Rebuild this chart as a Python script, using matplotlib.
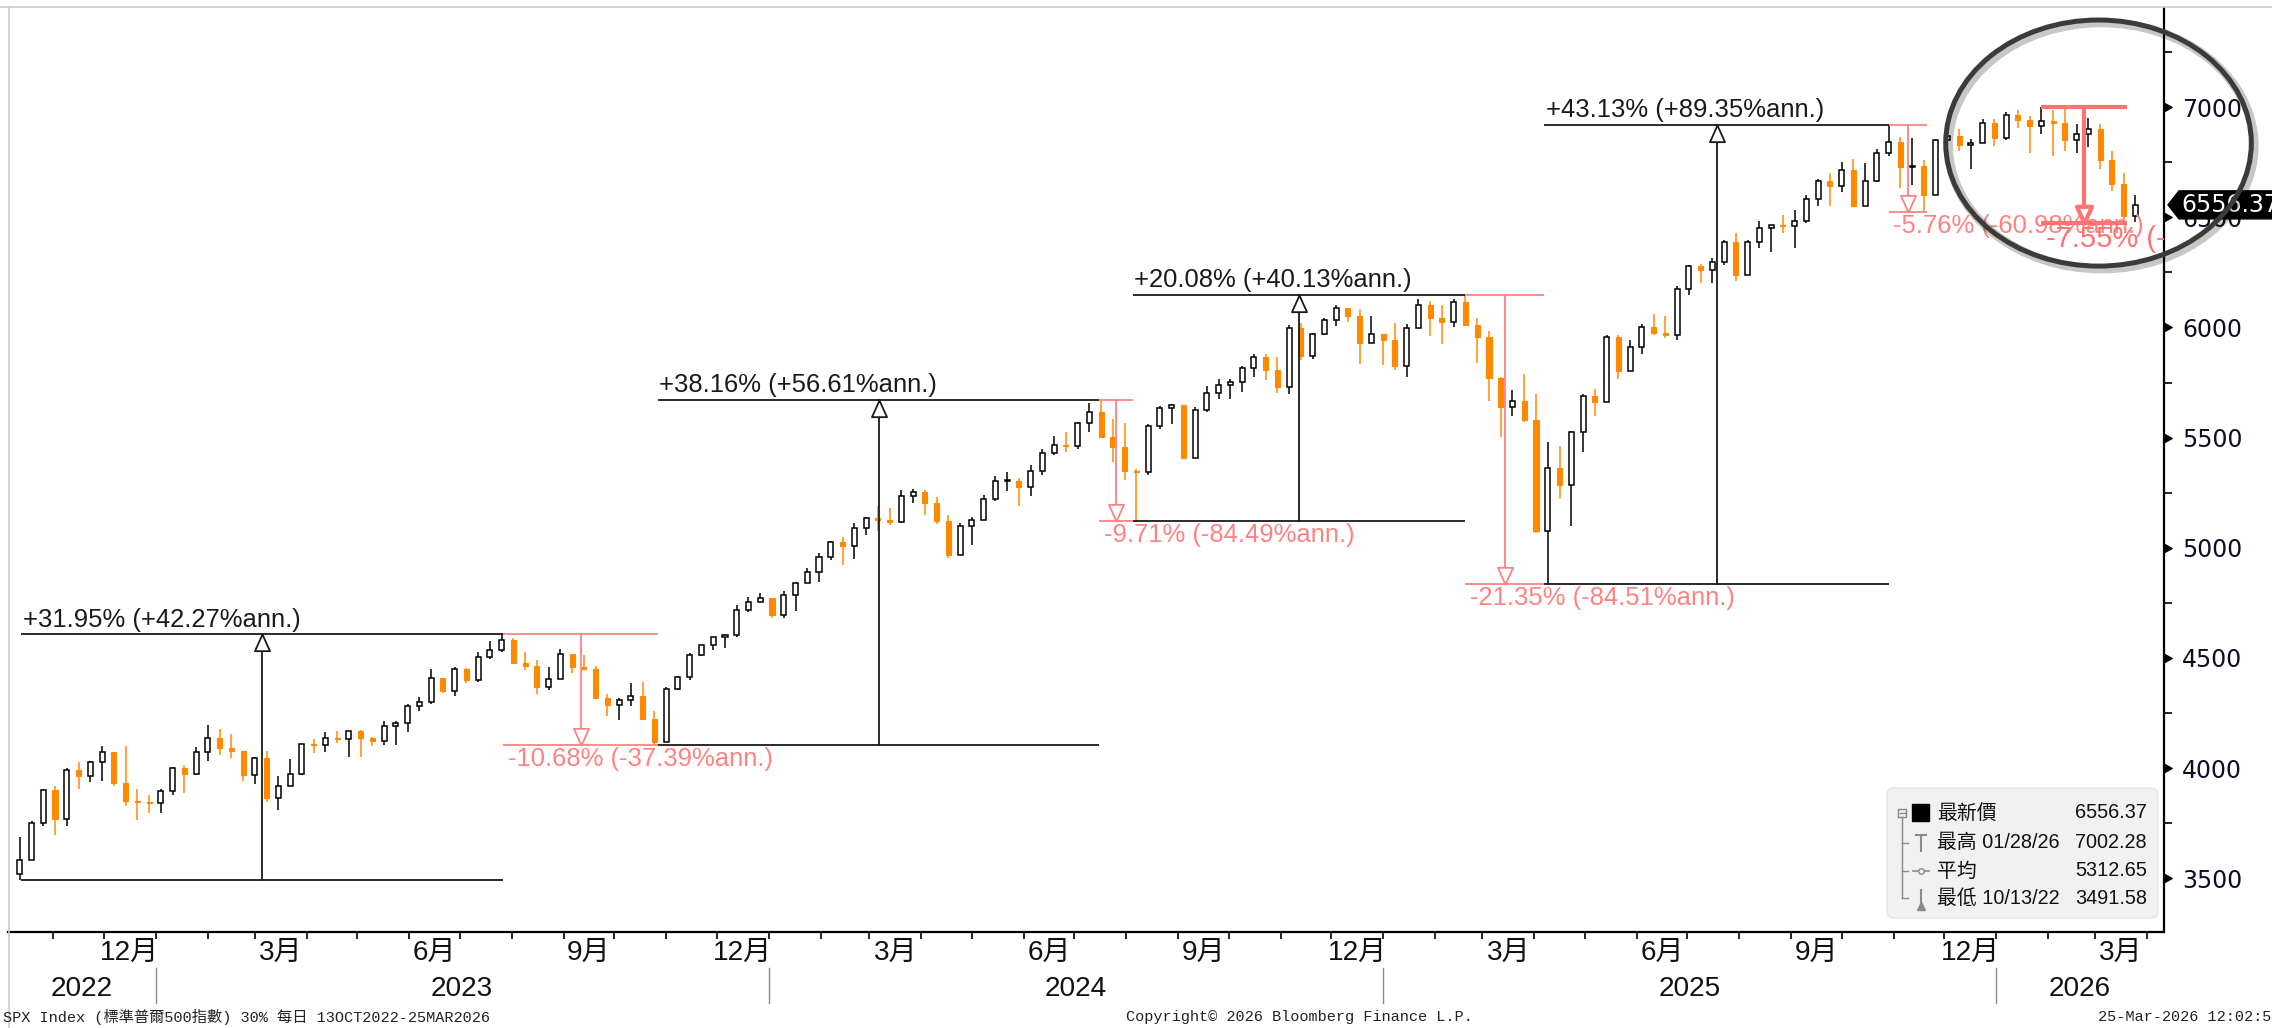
import numpy as np
import pandas as pd
import matplotlib
matplotlib.use('Agg')
import matplotlib.pyplot as plt
import matplotlib.dates as mdates
from matplotlib import font_manager as fm
from matplotlib.patches import Ellipse, Polygon, FancyBboxPatch
from matplotlib.lines import Line2D
from matplotlib.path import Path
from matplotlib.markers import MarkerStyle
from matplotlib.transforms import IdentityTransform, ScaledTranslation

plt.rcParams['axes.unicode_minus'] = False

# ---------------- data (weekly candles) ----------------
week_ends = pd.date_range('2022-10-14', '2026-03-27', freq='W-FRI')
first_open = 3520.37
closes = [
    3583, 3753, 3901, 3771, 3993, 3965, 4026, 4072, 3934, 3852, 3845, 3840,
    3895, 3999, 3973, 4071, 4136, 4090, 4079, 3970, 4046, 3862, 3917, 3971, 4109,
    4105, 4138, 4134, 4169, 4136, 4124, 4192, 4205, 4282, 4299, 4410, 4348, 4450,
    4399, 4505, 4536, 4582, 4478, 4464, 4370, 4406, 4516, 4457, 4450, 4320, 4288,
    4309, 4328, 4224, 4117, 4358, 4415, 4514, 4559, 4595, 4604, 4719, 4755, 4770,
    4697, 4784, 4840, 4891, 4959, 5027, 5006, 5089, 5137, 5124, 5117, 5234, 5254,
    5204, 5123, 4967, 5100, 5128, 5223, 5303, 5305, 5278, 5347, 5432, 5465, 5460,
    5567, 5615, 5505, 5459, 5347, 5344, 5554, 5635, 5648, 5408, 5626, 5703, 5738,
    5751, 5815, 5865, 5808, 5729, 5996, 5871, 5969, 6032, 6090, 6051, 5931, 5971,
    5942, 5827, 5997, 6101, 6041, 6026, 6115, 6013, 5955, 5770, 5639, 5668, 5581,
    5074, 5363, 5283, 5525, 5687, 5660, 5958, 5803, 5912, 6000, 5977, 5968, 6173,
    6279, 6260, 6297, 6389, 6238, 6389, 6450, 6467, 6460, 6482, 6584, 6664, 6644,
    6716, 6553, 6664, 6792, 6840, 6729, 6734, 6603, 6849, 6870, 6827, 6835, 6930,
    6858, 6966, 6940, 6916, 6939, 6930, 6850, 6880, 6900, 6760, 6650, 6506, 6556.37,
]
highs = [
    3685, 3762, 3905, 3920, 4001, 4028, 4034, 4101, 4060, 4101, 3906, 3878,
    3906, 4003, 4015, 4094, 4195, 4176, 4156, 4073, 4049, 4079, 3964, 4039, 4110,
    4133, 4163, 4169, 4170, 4175, 4143, 4213, 4213, 4291, 4323, 4448, 4408, 4459,
    4456, 4527, 4578, 4607, 4590, 4527, 4491, 4458, 4541, 4514, 4512, 4462, 4337,
    4320, 4385, 4393, 4259, 4366, 4418, 4521, 4560, 4595, 4609, 4739, 4778, 4793,
    4771, 4802, 4843, 4907, 4975, 5030, 5048, 5111, 5141, 5190, 5180, 5262, 5265,
    5264, 5230, 5150, 5114, 5139, 5239, 5325, 5342, 5315, 5376, 5448, 5506, 5524,
    5570, 5656, 5670, 5585, 5566, 5358, 5564, 5643, 5651, 5636, 5637, 5734, 5768,
    5768, 5823, 5879, 5879, 5866, 6013, 6018, 5973, 6045, 6100, 6089, 6086, 6050,
    5965, 6022, 6014, 6129, 6121, 6101, 6128, 6147, 6043, 5986, 5775, 5716, 5787,
    5696, 5481, 5460, 5528, 5700, 5721, 5964, 5968, 5944, 6017, 6060, 6051, 6188,
    6285, 6290, 6316, 6395, 6427, 6395, 6481, 6467, 6509, 6532, 6600, 6672, 6700,
    6751, 6764, 6745, 6808, 6920, 6866, 6862, 6760, 6854, 6896, 6902, 6856, 6946,
    6946, 6980, 6987, 6960, 7002, 6985, 6990, 6925, 6950, 6925, 6800, 6700, 6600,
]
lows = [
    3492, 3590, 3735, 3698, 3736, 3906, 3938, 3940, 3918, 3827, 3764, 3796,
    3795, 3877, 3885, 3968, 4032, 4061, 4048, 3943, 3929, 3847, 3809, 3937, 3969,
    4069, 4073, 4114, 4050, 4049, 4099, 4104, 4104, 4166, 4258, 4293, 4341, 4328,
    4385, 4389, 4497, 4527, 4475, 4443, 4335, 4356, 4414, 4430, 4449, 4316, 4238,
    4216, 4284, 4224, 4104, 4132, 4353, 4402, 4507, 4538, 4546, 4593, 4709, 4752,
    4682, 4682, 4714, 4844, 4845, 4943, 4921, 4947, 5057, 5076, 5105, 5114, 5204,
    5147, 5108, 4954, 4987, 5012, 5128, 5212, 5257, 5191, 5234, 5331, 5421, 5433,
    5448, 5524, 5497, 5391, 5306, 5119, 5331, 5540, 5561, 5402, 5407, 5615, 5675,
    5674, 5708, 5775, 5763, 5703, 5697, 5854, 5856, 5964, 6007, 6025, 5833, 5933,
    5829, 5809, 5773, 6001, 5962, 5924, 6004, 6008, 5837, 5667, 5505, 5598, 5573,
    5069, 4835, 5220, 5101, 5434, 5597, 5777, 5768, 5823, 5879, 5964, 5953, 5944,
    6146, 6202, 6202, 6282, 6212, 6248, 6361, 6343, 6427, 6360, 6476, 6552, 6551,
    6615, 6550, 6571, 6658, 6780, 6631, 6646, 6522, 6600, 6800, 6801, 6721, 6846,
    6825, 6850, 6905, 6790, 6880, 6780, 6800, 6790, 6820, 6720, 6620, 6473.6, 6480,
]

# trend-measure pivots (Bloomberg drawing tool)
seg_dates = ['2022-10-13', '2023-07-27', '2023-10-27', '2024-07-16', '2024-08-05',
             '2025-02-19', '2025-04-07', '2025-10-29', '2025-11-21']
seg_levels = [3491.58, 4607.07, 4103.78, 5669.67, 5119.26, 6147.43, 4835.04, 6920.34, 6521.92]
seg_labels = ['+31.95% (+42.27%ann.)', '-10.68% (-37.39%ann.)', '+38.16% (+56.61%ann.)',
              '-9.71% (-84.49%ann.)', '+20.08% (+40.13%ann.)', '-21.35% (-84.51%ann.)',
              '+43.13% (+89.35%ann.)', '-5.76% (-60.98%ann.)']
focus_dates = ['2026-01-28', '2026-03-20']
focus_levels = [7002.28, 6473.60]
focus_label = '-7.55% (-43.02%ann.)'

# highlight ellipse (centre date, centre price, width in days, height in points)
ellipse_center = ('2026-03-03', 6837)
ellipse_size = (182, 1117)

last_price = 6556.37
legend_labels = ['最新價', '最高 01/28/26', '平均', '最低 10/13/22']
legend_values = [6556.37, 7002.28, 5312.65, 3491.58]

y_major = [3500, 4000, 4500, 5000, 5500, 6000, 6500, 7000]
y_minor = [3750, 4250, 4750, 5250, 5750, 6250, 6750, 7250]
month_labels = {12: '12月', 3: '3月', 6: '6月', 9: '9月'}
years = [2022, 2023, 2024, 2025, 2026]
footer_left = 'SPX Index (標準普爾500指數) 30% 每日 13OCT2022-25MAR2026'
footer_mid = 'Copyright© 2026 Bloomberg Finance L.P.'
footer_right = '25-Mar-2026 12:02:58'

# ---------------- fonts ----------------
names = {f.name for f in fm.fontManager.ttflist}
NARROW = 'Liberation Sans Narrow' if 'Liberation Sans Narrow' in names else 'Liberation Sans'
NS = 1.0 if NARROW == 'Liberation Sans Narrow' else 0.84
CJK = 'Noto Sans CJK TC'
MONO = 'Liberation Mono' if 'Liberation Mono' in names else 'DejaVu Sans Mono'

# ---------------- figure ----------------
W, H = 2272, 1028
fig = plt.figure(figsize=(W / 100, H / 100), dpi=100)
fig.patch.set_facecolor('white')
AX_L, AX_R, AX_T, AX_B = 8, 2164, 8, 932
ax = fig.add_axes([AX_L / W, 1 - AX_B / H, (AX_R - AX_L) / W, (AX_B - AX_T) / H])
ax.set_facecolor('white')
x_lo, x_hi = mdates.date2num(pd.Timestamp('2022-10-05')), mdates.date2num(pd.Timestamp('2026-04-11'))
ax.set_xlim(x_lo, x_hi)
ax.set_ylim(3256, 7450)

# ---------------- candles ----------------
x = mdates.date2num(week_ends - pd.Timedelta(days=2))
c = np.array(closes, dtype=float)
o = np.concatenate([[first_open], c[:-1]])
hi = np.maximum(np.array(highs, dtype=float), np.maximum(o, c))
lo = np.minimum(np.array(lows, dtype=float), np.minimum(o, c))
up = c >= o
dn = ~up
ORANGE = '#ff8a00'
bw = 3.0
bot = np.minimum(o, c)
hgt = np.maximum(np.abs(c - o), 4)
ax.vlines(x[up], lo[up], hi[up], color='black', lw=1.1, zorder=2)
ax.bar(x[up], hgt[up], width=bw, bottom=bot[up], facecolor='white', edgecolor='black', lw=1.1, zorder=3)
ax.vlines(x[dn], lo[dn], hi[dn], color=ORANGE, lw=1.1, zorder=2)
ax.bar(x[dn], hgt[dn], width=bw, bottom=bot[dn], facecolor=ORANGE, edgecolor=ORANGE, lw=0.8, zorder=3)

# ---------------- trend measure annotations ----------------
tri_up = MarkerStyle(Path([(0, 0), (0.45, -1), (-0.45, -1), (0, 0)], closed=True))
tri_dn = MarkerStyle(Path([(0, 0), (0.45, 1), (-0.45, 1), (0, 0)], closed=True))
BLACK = '#1a1a1a'
RED = '#ff8282'


def measure(d0, v0, d1, v1, label, color, lw, fs, ms, z):
    x0 = mdates.date2num(pd.Timestamp(d0))
    x1 = mdates.date2num(pd.Timestamp(d1))
    xm = (x0 + x1) / 2
    ax.plot([x0, x1], [v0, v0], color=color, lw=lw, zorder=z, solid_capstyle='butt')
    ax.plot([x0, x1], [v1, v1], color=color, lw=lw, zorder=z, solid_capstyle='butt')
    ax.plot([xm, xm], [v0, v1], color=color, lw=lw, zorder=z)
    goes_up = v1 > v0
    ax.plot([xm], [v1], marker=tri_up if goes_up else tri_dn, ms=ms, mfc='white',
            mec=color, mew=lw, zorder=z + 0.1, ls='none')
    if goes_up:
        ax.annotate(label, (x0, v1), xytext=(1, 2), textcoords='offset points',
                    ha='left', va='bottom', fontsize=fs, color=color, family=NARROW, zorder=z)
    else:
        ax.annotate(label, (x0, v1), xytext=(3, -1), textcoords='offset points',
                    ha='left', va='top', fontsize=fs, color=color, family=NARROW, zorder=z,
                    annotation_clip=True, clip_on=True)


for i, lab in enumerate(seg_labels):
    v0, v1 = seg_levels[i], seg_levels[i + 1]
    col = BLACK if v1 > v0 else RED
    measure(seg_dates[i], v0, seg_dates[i + 1], v1, lab, col, 1.3, 22 * NS, 24, 4)

measure(focus_dates[0], focus_levels[0], focus_dates[1], focus_levels[1], focus_label,
        '#ff7373', 3.0, 25 * NS, 24, 6)

# ---------------- axes styling ----------------
for s in ['left', 'top']:
    ax.spines[s].set_visible(False)
ax.spines['right'].set_color('black')
ax.spines['right'].set_linewidth(1.6)
ax.spines['bottom'].set_color('black')
ax.spines['bottom'].set_linewidth(1.6)

ax.yaxis.tick_right()
ax.set_yticks(y_major)
ax.set_yticklabels([str(v) for v in y_major])
ax.set_yticks(y_minor, minor=True)
ax.tick_params(axis='y', which='major', length=0, pad=13, labelsize=17, labelcolor='#0d0d26')
ax.tick_params(axis='y', which='minor', length=6, width=1.2, color='black', direction='out')
tri_r = MarkerStyle(Path([(0, -0.55), (1, 0), (0, 0.55), (0, -0.55)], closed=True))
ax.plot([1.0] * len(y_major), y_major, transform=ax.get_yaxis_transform(), marker=tri_r,
        ms=11, color='black', ls='none', clip_on=False, zorder=5)

# month ticks
month_starts = pd.date_range('2022-11-01', '2026-04-01', freq='MS')
ax.set_xticks(mdates.date2num(month_starts))
ax.set_xticklabels([])
ax.tick_params(axis='x', length=5, width=1.2, color='black', direction='out')

ax_h = AX_B - AX_T
xt = ax.get_xaxis_transform()
for ms_ in pd.date_range('2022-10-01', '2026-03-01', freq='MS'):
    if ms_.month in month_labels:
        mid = mdates.date2num(ms_) + ms_.days_in_month / 2
        if x_lo < mid < x_hi:
            ax.text(mid, -21 / ax_h, month_labels[ms_.month], transform=xt, ha='center', va='center',
                    fontsize=24 * NS, family=[NARROW, CJK], color='#111111')

for yr in years:
    a = max(mdates.date2num(pd.Timestamp(f'{yr}-01-01')), x_lo)
    b = min(mdates.date2num(pd.Timestamp(f'{yr + 1}-01-01')), x_hi)
    ax.text((a + b) / 2, -57 / ax_h, str(yr), transform=xt, ha='center', va='center',
            fontsize=24 * NS, family=NARROW, color='#111111')
    if yr > years[0]:
        xb = mdates.date2num(pd.Timestamp(f'{yr}-01-01'))
        ax.plot([xb, xb], [-36 / ax_h, -71 / ax_h], transform=xt, color='#8c8c8c', lw=1.0, clip_on=False)

# ---------------- frame lines ----------------
fig.add_artist(Line2D([0, 1], [1 - 7 / H, 1 - 7 / H], transform=fig.transFigure, color='#cccccc', lw=1.2))
fig.add_artist(Line2D([9 / W, 9 / W], [0, 1 - 7 / H], transform=fig.transFigure, color='#cccccc', lw=1.2))

# ---------------- last price tag ----------------
fig.canvas.draw()
ID = IdentityTransform()
yd = ax.transData.transform((x_lo, last_price))[1]
sx = ax.transAxes.transform((1, 0))[0]
tag = [(sx + 4, yd), (sx + 15, yd + 14), (W + 10, yd + 14), (W + 10, yd - 14), (sx + 15, yd - 14)]
fig.add_artist(Polygon(tag, closed=True, transform=ID, fc='black', ec='black', zorder=5))
fig.text(sx + 17, yd, f'{last_price:.2f}', transform=ID, color='white', fontsize=17,
         va='center', ha='left', family='DejaVu Sans', zorder=6)

# ---------------- highlight ellipse ----------------
ecx = mdates.date2num(pd.Timestamp(ellipse_center[0]))
shadow = Ellipse((ecx, ellipse_center[1]), ellipse_size[0], ellipse_size[1], fill=False,
                 ec=(0, 0, 0, 0.22), lw=6.5,
                 transform=ax.transData + ScaledTranslation(2 / 72, -2 / 72, fig.dpi_scale_trans), zorder=9)
fig.add_artist(shadow)
ell = Ellipse((ecx, ellipse_center[1]), ellipse_size[0], ellipse_size[1], fill=False,
              ec='#3c3b37', lw=3.6, transform=ax.transData, zorder=10)
fig.add_artist(ell)

# ---------------- legend box ----------------
fig.add_artist(FancyBboxPatch((1887, H - 918), 271, 130, boxstyle='round,pad=0,rounding_size=7',
                              transform=ID, fc='#f1f1f1', ec='#e4e4e4', lw=1, zorder=3))
rows = [H - 813, H - 843, H - 871, H - 898]
GRAY = '#8a8a8a'
for i, (lab, val) in enumerate(zip(legend_labels, legend_values)):
    fig.text(1937, rows[i], lab, transform=ID, fontsize=17 * NS, family=[NARROW, CJK],
             va='center', ha='left', color='#111111', zorder=4)
    fig.text(2147, rows[i], f'{val:.2f}', transform=ID, fontsize=17 * NS, family=NARROW,
             va='center', ha='right', color='#111111', zorder=4)


def fl(xs, ys, **kw):
    fig.add_artist(Line2D(xs, ys, transform=ID, zorder=4, **kw))


# tree
fl([1898, 1906, 1906, 1898, 1898], [rows[0] - 4, rows[0] - 4, rows[0] + 4, rows[0] + 4, rows[0] - 4], color=GRAY, lw=1)
fl([1899.5, 1904.5], [rows[0], rows[0]], color=GRAY, lw=1)
fl([1902, 1902], [rows[0] - 4, rows[3]], color=GRAY, lw=1)
for r in rows[1:]:
    fl([1902, 1908], [r, r], color=GRAY, lw=1)
fig.add_artist(FancyBboxPatch((1912, rows[0] - 8), 17, 17, boxstyle='square,pad=0', transform=ID,
                              fc='black', ec='black', zorder=4))
fl([1921, 1921], [rows[1] - 8, rows[1] + 8], color=GRAY, lw=1.5)
fl([1916, 1926], [rows[1] + 8, rows[1] + 8], color=GRAY, lw=1.5)
fl([1913, 1929], [rows[2], rows[2]], color=GRAY, lw=1.2)
fl([1921], [rows[2]], color=GRAY, marker='o', ms=4, mfc='#f1f1f1', mec=GRAY, ls='none')
fl([1921, 1921], [rows[3] - 8, rows[3] + 8], color=GRAY, lw=1.5)
fl([1921], [rows[3] - 8], color=GRAY, marker='^', ms=6, ls='none')

# ---------------- footer ----------------
fig.text(3, H - 1017, footer_left, transform=ID, fontsize=11, family=[MONO, CJK], va='center',
         ha='left', color='#222222')
fig.text(1299, H - 1017, footer_mid, transform=ID, fontsize=11, family=MONO, va='center',
         ha='center', color='#222222')
fig.text(2098, H - 1017, footer_right, transform=ID, fontsize=11, family=MONO, va='center',
         ha='left', color='#222222')

fig.savefig('out.png', dpi=100)
